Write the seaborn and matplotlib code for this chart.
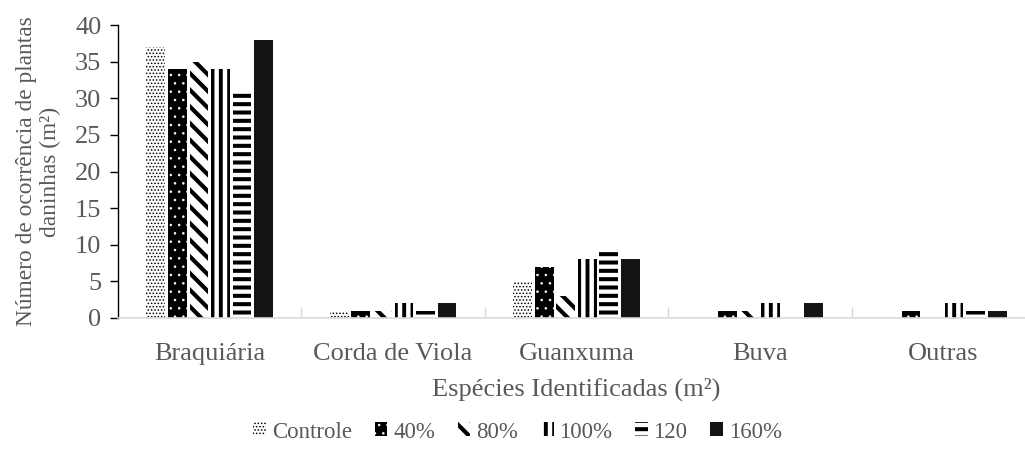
import matplotlib
matplotlib.use("Agg")
import matplotlib.pyplot as plt
import seaborn as sns
import pandas as pd

# Weed occurrence per identified species for each treatment
categories = ["Braquiária", "Corda de Viola", "Guanxuma", "Buva", "Outras"]
treatments = ["Controle", "40%", "80%", "100%", "120", "160%"]
controle = [37, 1, 5, 0, 0]
dose_40 = [34, 1, 7, 1, 1]
dose_80 = [35, 1, 3, 1, 0]
dose_100 = [34, 2, 8, 2, 2]
dose_120 = [31, 1, 9, 0, 1]
dose_160 = [38, 2, 8, 2, 1]
y_ticks = [0, 5, 10, 15, 20, 25, 30, 35, 40]

series = [controle, dose_40, dose_80, dose_100, dose_120, dose_160]
rows = []
for name, vals in zip(treatments, series):
    for cat, v in zip(categories, vals):
        rows.append({"Espécie": cat, "Tratamento": name, "Valor": v})
df = pd.DataFrame(rows)

sns.set_theme(style="white")
plt.rcParams["font.family"] = ["Liberation Serif", "DejaVu Serif"]
TEXT = "#595959"
AXIS_GREY = "#d9d9d9"

fig = plt.figure(figsize=(10.25, 4.66), dpi=100)
ax = fig.add_axes([118 / 1025, 1 - 318 / 466, (1035 - 118) / 1025, (318 - 25) / 466])

sns.barplot(data=df, x="Espécie", y="Valor", hue="Tratamento",
            order=categories, hue_order=treatments,
            palette=["white"] * 6, saturation=1, errorbar=None,
            width=0.705, gap=0.13, legend=False, ax=ax)

# fill pattern of each treatment: face colour, hatch colour, hatch, hatch width
styles = [
    ("white", "black", ".....", 0.7),
    ("black", "white", "..", 0.6),
    ("white", "black", "\\\\", 3.0),
    ("white", "black", "||", 2.8),
    ("white", "black", "--", 2.9),
    ("#141414", "#141414", None, 1.0),
]


def apply_style(patch, face, hc, hatch, hlw):
    patch.set_facecolor(face)
    patch.set_edgecolor(hc)
    patch.set_linewidth(0)
    patch.set_hatch(hatch)
    if hasattr(patch, "set_hatch_linewidth"):
        patch.set_hatch_linewidth(hlw)
    else:
        patch._hatch_linewidth = hlw


for cont, style in zip(ax.containers, styles):
    for p in cont:
        apply_style(p, *style)

ax.set_ylim(0, 40)
ax.set_yticks(y_ticks)
ax.set_xlim(-0.5, len(categories) - 0.5)

for side in ("top", "right"):
    ax.spines[side].set_visible(False)
ax.spines["left"].set_color("black")
ax.spines["left"].set_linewidth(1.0)
ax.spines["bottom"].set_color(AXIS_GREY)
ax.spines["bottom"].set_linewidth(1.2)

ax.tick_params(axis="y", left=True, direction="out", length=6, width=1,
               color="black", labelsize=19, labelcolor=TEXT, pad=6)
ax.set_xticks([i + 0.5 for i in range(len(categories) - 1)], minor=True)
ax.tick_params(axis="x", which="major", bottom=True, length=0,
               labelsize=19, labelcolor=TEXT, pad=18)
ax.tick_params(axis="x", which="minor", bottom=True, direction="in",
               length=8, width=1, color=AXIS_GREY)

ax.set_ylabel("Número de ocorrência de plantas\ndaninhas (m²)",
              fontsize=16.8, color=TEXT, labelpad=10, linespacing=1.15)
ax.set_xlabel("Espécies Identificadas (m²)", fontsize=19, color=TEXT,
              labelpad=9)

handles = [cont[0] for cont in ax.containers]
leg = fig.legend(handles, treatments, loc="center",
                 bbox_to_anchor=(0.505, 1 - 432 / 466), ncol=6, frameon=False,
                 fontsize=16.5, labelcolor=TEXT, handlelength=0.55,
                 handleheight=0.55, handletextpad=0.25, columnspacing=1.0)
for h, style in zip(leg.legend_handles, styles):
    apply_style(h, *style)

fig.savefig("out.png", dpi=100)
